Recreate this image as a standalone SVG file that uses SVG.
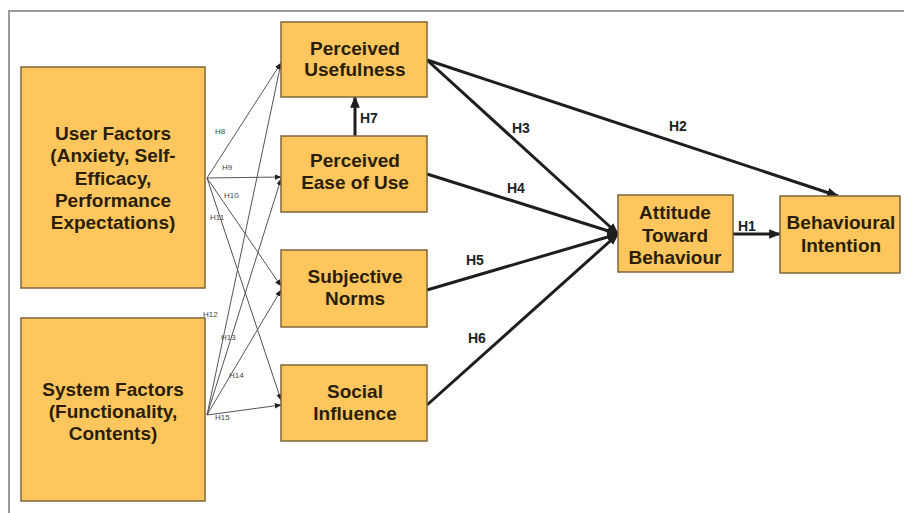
<svg xmlns="http://www.w3.org/2000/svg" width="904" height="513" viewBox="0 0 904 513">
<defs>
<style>
.box{fill:#FFC65E;stroke:#7d6538;stroke-width:1.5}
.bt{font-family:"Liberation Sans",Arial,sans-serif;font-weight:bold;font-size:19px;fill:#2a1e08;text-anchor:middle}
.thin{stroke:#555;stroke-width:1;fill:none;marker-end:url(#ah)}
.bold{stroke:#1e1e1e;stroke-width:3;fill:none;marker-end:url(#ab)}
.sl{font-family:"Liberation Sans",Arial,sans-serif;font-size:8px;fill:#444}
.bl{font-family:"Liberation Sans",Arial,sans-serif;font-weight:bold;font-size:14px;fill:#222}
</style>
<marker id="ah" viewBox="0 0 10 10" refX="9" refY="5" markerWidth="7" markerHeight="7" orient="auto" markerUnits="userSpaceOnUse"><path d="M0,1 L10,5 L0,9 z" fill="#222"/></marker>
<marker id="ab" viewBox="0 0 10 10" refX="9" refY="5" markerWidth="4" markerHeight="4" orient="auto"><path d="M0,1 L10,5 L0,9 z" fill="#1e1e1e"/></marker>
</defs>
<rect width="904" height="513" fill="#fff"/>
<path d="M9,513 V11 H904" fill="none" stroke="#9a9a9a" stroke-width="2"/>
<g id="connectors">
<line class="thin" x1="207" y1="178" x2="281" y2="63"/>
<line class="thin" x1="207" y1="178" x2="281" y2="177"/>
<line class="thin" x1="207" y1="178" x2="281" y2="286"/>
<line class="thin" x1="207" y1="178" x2="281" y2="400"/>
<line class="thin" x1="207" y1="415" x2="281" y2="63"/>
<line class="thin" x1="207" y1="415" x2="281" y2="179"/>
<line class="thin" x1="207" y1="415" x2="281" y2="290"/>
<line class="thin" x1="207" y1="415" x2="281" y2="405"/>
<line class="bold" x1="427" y1="60" x2="618" y2="234"/>
<line class="bold" x1="427" y1="60" x2="838" y2="196"/>
<line class="bold" x1="427" y1="174" x2="618" y2="234"/>
<line class="bold" x1="427" y1="290" x2="618" y2="234"/>
<line class="bold" x1="427" y1="405" x2="618" y2="234"/>
<line class="bold" x1="355" y1="136" x2="355" y2="97"/>
<line class="bold" x1="733" y1="234" x2="780" y2="234"/>
<text class="sl" x="215" y="134">H8</text>
<text class="sl" x="222" y="170">H9</text>
<text class="sl" x="224" y="198">H10</text>
<text class="sl" x="210" y="220">H11</text>
<text class="sl" x="203" y="317">H12</text>
<text class="sl" x="221" y="340">H13</text>
<text class="sl" x="229" y="378">H14</text>
<text class="sl" x="215" y="420">H15</text>
<text class="bl" x="512" y="133">H3</text>
<text class="bl" x="669" y="131">H2</text>
<text class="bl" x="507" y="193">H4</text>
<text class="bl" x="466" y="265">H5</text>
<text class="bl" x="468" y="343">H6</text>
<text class="bl" x="360" y="123">H7</text>
<text class="bl" x="738" y="231">H1</text>
</g>
<g id="user-factors">
<rect class="box" x="21" y="67" width="184" height="221"/>
<text class="bt" x="113" y="140">User Factors</text>
<text class="bt" x="113" y="162">(Anxiety, Self-</text>
<text class="bt" x="113" y="185">Efficacy,</text>
<text class="bt" x="113" y="207">Performance</text>
<text class="bt" x="113" y="229">Expectations)</text>
</g>
<g id="system-factors">
<rect class="box" x="21" y="318" width="184" height="183"/>
<text class="bt" x="113" y="396">System Factors</text>
<text class="bt" x="113" y="418">(Functionality,</text>
<text class="bt" x="113" y="440">Contents)</text>
</g>
<g id="perceived-usefulness">
<rect class="box" x="281" y="22" width="146" height="75"/>
<text class="bt" x="355" y="55">Perceived</text>
<text class="bt" x="355" y="76">Usefulness</text>
</g>
<g id="perceived-ease-of-use">
<rect class="box" x="281" y="136" width="146" height="76"/>
<text class="bt" x="355" y="167">Perceived</text>
<text class="bt" x="355" y="189">Ease of Use</text>
</g>
<g id="subjective-norms">
<rect class="box" x="281" y="250" width="146" height="77"/>
<text class="bt" x="355" y="283">Subjective</text>
<text class="bt" x="355" y="305">Norms</text>
</g>
<g id="social-influence">
<rect class="box" x="281" y="365" width="146" height="76"/>
<text class="bt" x="355" y="398">Social</text>
<text class="bt" x="355" y="420">Influence</text>
</g>
<g id="attitude">
<rect class="box" x="618" y="195" width="115" height="77"/>
<text class="bt" x="675" y="219">Attitude</text>
<text class="bt" x="675" y="242">Toward</text>
<text class="bt" x="675" y="264">Behaviour</text>
</g>
<g id="behavioural-intention">
<rect class="box" x="780" y="196" width="120" height="77"/>
<text class="bt" x="841" y="229">Behavioural</text>
<text class="bt" x="841" y="252">Intention</text>
</g>
</svg>
